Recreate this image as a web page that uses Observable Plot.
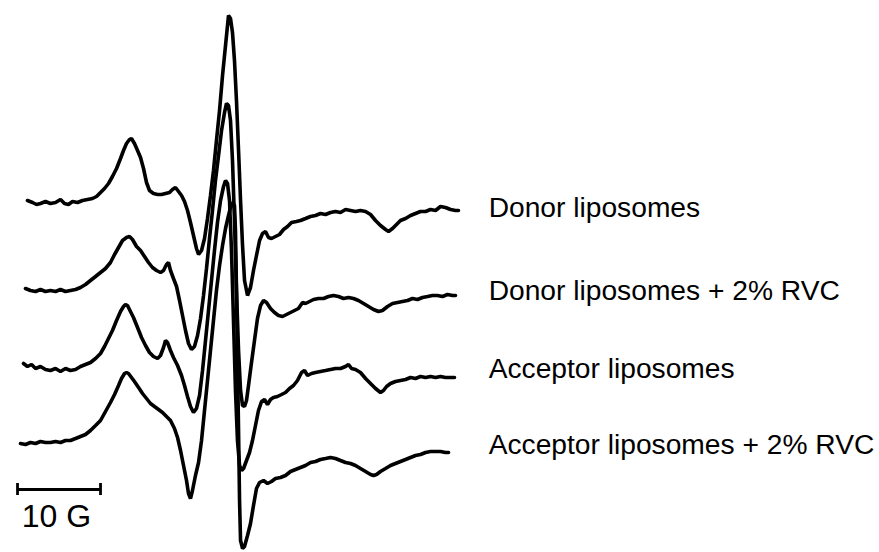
<!DOCTYPE html>
<html>
<head>
<meta charset="utf-8">
<script src="https://cdn.jsdelivr.net/npm/d3@7"></script>
<script src="https://cdn.jsdelivr.net/npm/@observablehq/plot@0.6"></script>
<style>
  html, body { margin: 0; padding: 0; background: #fff; }
  #chart svg { display: block; }
</style>
</head>
<body>
<div id="chart"></div>
<script>
// Sample names (legend text at right of each spectrum)
const sampleLabels = [
  "Donor liposomes",
  "Donor liposomes + 2% RVC",
  "Acceptor liposomes",
  "Acceptor liposomes + 2% RVC"
];

// Vertical stacking offset of each spectrum (a.u.)
const stackOffsets = [0, -89, -166, -241];

// Magnetic field (G, relative) and EPR signal (a.u.) — Donor liposomes
const fieldDonor = [0.84,1.45,1.93,2.41,3.01,3.61,4.22,4.82,5.30,5.78,
  6.27,6.87,7.47,8.07,8.67,9.16,9.64,10.12,10.60,11.08,
  11.57,12.05,12.41,12.77,13.13,13.37,13.73,14.10,14.46,14.82,
  15.18,15.54,16.02,16.51,16.99,17.47,17.95,18.31,18.67,19.04,
  19.40,19.76,20.12,20.48,20.84,21.20,21.45,21.81,22.17,22.53,
  22.89,23.25,23.61,23.98,24.34,24.70,24.94,25.06,25.30,25.54,
  25.78,26.02,26.27,26.51,26.75,26.99,27.35,27.71,28.07,28.43,
  28.80,29.16,29.52,29.88,30.24,30.72,31.20,31.69,32.17,32.65,
  33.25,33.73,34.34,34.94,35.54,36.14,36.75,37.35,37.95,38.55,
  39.16,39.76,40.36,40.96,41.57,42.17,42.77,43.37,43.98,44.34,
  44.82,45.30,45.78,46.39,46.99,47.59,48.19,48.80,49.40,50.00,
  50.60,51.20,51.81,52.41,52.77];
const signalDonor = [1,-1,-3,-2,0,-2,-1,2,-2,-3,
  0,-1,1,2,3,5,9,13,18,25,
  33,43,51,58,62,63,58,51,44,33,
  19,11,8,7,7,8,9,12,14,10,
  6,0,-9,-21,-34,-47,-53,-49,-37,-17,
  6,31,61,91,126,156,176,186,183,169,
  141,101,51,1,-44,-79,-94,-86,-69,-54,
  -39,-32,-30,-36,-37,-35,-33,-28,-25,-21,
  -20,-19,-17,-15,-14,-12,-13,-11,-10,-11,
  -8,-9,-10,-9,-10,-13,-19,-24,-28,-30,
  -27,-23,-19,-17,-14,-12,-10,-10,-8,-9,
  -5,-6,-8,-9,-9];

// Donor liposomes + 2% RVC
const fieldDonorRVC = [0.60,1.20,1.81,2.41,3.01,3.61,4.22,4.82,5.42,6.02,
  6.63,7.23,7.83,8.43,9.04,9.64,10.24,10.84,11.33,11.81,
  12.29,12.77,13.13,13.49,13.98,14.46,14.94,15.42,15.90,16.39,
  16.87,17.23,17.59,17.83,18.07,18.43,18.80,19.16,19.52,19.88,
  20.24,20.60,20.96,21.33,21.69,22.05,22.41,22.77,23.13,23.49,
  23.86,24.22,24.58,24.82,25.06,25.30,25.54,25.78,26.02,26.27,
  26.51,26.75,26.99,27.23,27.47,27.83,28.19,28.55,28.92,29.28,
  29.64,30.12,30.60,31.08,31.57,32.05,32.53,33.01,33.49,33.98,
  34.34,34.82,35.30,35.90,36.51,37.11,37.71,38.31,38.92,39.52,
  40.12,40.72,41.33,41.93,42.53,43.13,43.61,44.22,44.82,45.42,
  46.02,46.63,47.23,47.83,48.43,49.04,49.64,50.24,50.84,51.45,
  52.05,52.41];
const signalDonorRVC = [2,0,-1,1,-1,0,-1,1,-1,0,
  1,3,6,10,14,18,22,28,36,43,
  50,53,54,51,44,40,34,28,23,20,
  18,20,26,28,20,12,4,-10,-25,-40,
  -53,-59,-56,-45,-28,-5,22,52,80,110,
  135,160,178,187,185,170,130,70,0,-60,
  -100,-115,-116,-110,-95,-72,-50,-28,-15,-10,
  -12,-18,-22,-25,-26,-24,-22,-20,-18,-12,
  -13,-11,-9,-8,-8,-6,-5,-6,-8,-7,
  -8,-10,-13,-16,-19,-21,-20,-16,-13,-12,
  -11,-10,-8,-9,-7,-6,-5,-5,-6,-4,
  -5,-5];

// Acceptor liposomes
const fieldAcceptor = [0.36,0.84,1.33,1.81,2.41,3.01,3.61,4.22,4.82,5.42,
  6.02,6.63,7.23,7.83,8.43,9.04,9.64,10.12,10.60,11.08,
  11.57,12.05,12.41,12.65,12.89,13.25,13.61,14.10,14.58,15.06,
  15.54,16.02,16.51,16.87,17.23,17.47,17.71,18.07,18.43,18.92,
  19.40,19.76,20.12,20.48,20.84,21.20,21.57,21.93,22.29,22.65,
  23.01,23.37,23.73,24.10,24.46,24.70,24.94,25.18,25.42,25.66,
  25.90,26.14,26.39,26.63,26.87,27.23,27.59,27.95,28.31,28.67,
  29.04,29.40,29.76,30.12,30.48,30.96,31.45,31.93,32.41,32.89,
  33.37,33.86,34.22,34.58,35.06,35.54,36.14,36.75,37.35,37.95,
  38.55,39.16,39.52,39.88,40.36,40.96,41.57,42.17,42.77,43.37,
  43.73,44.10,44.58,45.18,45.78,46.39,46.99,47.59,48.19,48.80,
  49.40,50.00,50.60,51.20,51.81,52.29];
const signalAcceptor = [4,1,3,-1,1,-2,-3,-1,-4,-1,
  -3,-2,1,3,5,9,14,21,29,37,
  47,56,61,63,62,56,50,40,30,22,
  15,11,9,12,20,27,25,17,10,2,
  -8,-18,-29,-39,-45,-41,-28,-3,27,57,
  87,117,145,167,181,187,184,167,117,47,
  -23,-73,-98,-103,-101,-93,-85,-73,-58,-43,
  -34,-32,-37,-32,-30,-29,-27,-25,-21,-18,
  -13,-5,-3,-8,-6,-5,-4,-3,-2,-1,
  -1,1,3,-1,-2,-5,-11,-16,-21,-25,
  -23,-19,-16,-14,-13,-12,-10,-11,-9,-10,
  -9,-10,-9,-10,-10,-10];

// Acceptor liposomes + 2% RVC
const fieldAcceptorRVC = [0.00,0.60,1.20,1.81,2.41,3.01,3.61,4.22,4.82,5.42,
  6.02,6.63,7.23,7.83,8.43,9.04,9.64,10.24,10.84,11.33,
  11.81,12.17,12.53,12.77,13.01,13.37,13.73,14.22,14.70,15.18,
  15.66,16.14,16.63,17.11,17.59,18.07,18.55,18.92,19.28,19.64,
  20.00,20.24,20.48,20.72,21.08,21.45,21.81,22.17,22.53,22.89,
  23.25,23.61,23.98,24.34,24.70,25.06,25.30,25.54,25.78,25.90,
  26.02,26.14,26.27,26.39,26.51,26.75,26.99,27.35,27.71,28.07,
  28.43,28.80,29.28,29.76,30.24,30.72,31.33,31.93,32.53,33.13,
  33.73,34.34,34.94,35.54,36.14,36.75,37.35,37.95,38.55,39.16,
  39.76,40.36,40.96,41.57,42.17,42.53,42.89,43.37,43.98,44.58,
  45.18,45.78,46.39,46.99,47.59,48.19,48.80,49.40,50.00,50.60,
  51.20,51.57];
const signalAcceptorRVC = [-1,-2,0,-1,1,0,0,1,0,2,
  2,4,6,8,12,17,22,31,40,48,
  57,64,69,70,69,65,61,55,49,44,
  39,36,33,30,26,22,14,5,-8,-23,
  -38,-51,-56,-48,-33,-20,2,32,62,92,
  122,152,177,197,214,227,235,240,237,212,
  152,82,12,-58,-98,-106,-104,-93,-81,-63,
  -46,-40,-38,-41,-39,-36,-35,-33,-29,-27,
  -25,-23,-20,-19,-17,-16,-15,-16,-18,-20,
  -21,-23,-26,-29,-32,-33,-32,-29,-26,-23,
  -21,-19,-17,-15,-13,-12,-10,-9,-9,-9,
  -10,-10];

// Scale bar
const scaleBarGauss = 10;
const scaleBarLabel = "10 G";

const fields = [fieldDonor, fieldDonorRVC, fieldAcceptor, fieldAcceptorRVC];
const signals = [signalDonor, signalDonorRVC, signalAcceptor, signalAcceptorRVC];

const rows = fields.flatMap((f, i) =>
  f.map((b, j) => ({ sample: sampleLabels[i], field: b, signal: signals[i][j] + stackOffsets[i] }))
);
const labelRows = sampleLabels.map((s, i) => ({ sample: s, field: 56.4, signal: stackOffsets[i] - 4 + (i === 0 ? -2 : 5 - i) }));

const barStart = -0.36;
const barY = -288;

const font = "'Liberation Sans', Arial, Helvetica, sans-serif";

const chart = Plot.plot({
  width: 879,
  height: 552,
  margin: 0,
  style: { fontFamily: font, background: "#fff" },
  x: { domain: [-2.41, 103.49], axis: null },
  y: { domain: [-351, 201], axis: null },
  marks: [
    Plot.line(rows, {
      x: "field", y: "signal", z: "sample",
      stroke: "#000", strokeWidth: 3.6, strokeLinejoin: "miter", strokeLinecap: "round"
    }),
    Plot.text(labelRows, {
      x: "field", y: "signal", text: "sample",
      textAnchor: "start", fontSize: 28.2, fill: "#000", fontFamily: font
    }),
    Plot.ruleY([barY], { x1: barStart, x2: barStart + scaleBarGauss, stroke: "#000", strokeWidth: 2.8 }),
    Plot.ruleX([barStart, barStart + scaleBarGauss], { y1: barY + 6, y2: barY - 6, stroke: "#000", strokeWidth: 2.8 }),
    Plot.text([scaleBarLabel], {
      x: barStart + 0.5, y: barY - 27, text: d => d,
      textAnchor: "start", fontSize: 32, fill: "#000", fontFamily: font
    })
  ]
});
document.getElementById("chart").append(chart);
</script>
</body>
</html>
